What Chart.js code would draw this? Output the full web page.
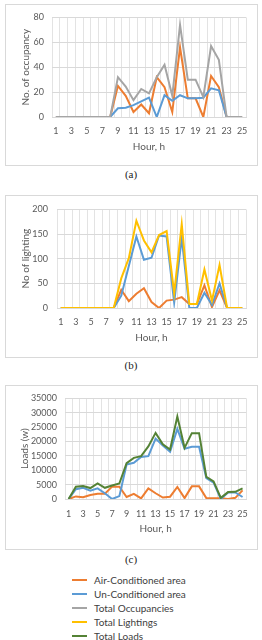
<!DOCTYPE html>
<html><head><meta charset="utf-8">
<script src="https://cdn.jsdelivr.net/npm/chart.js@4"></script>
<style>
html,body{margin:0;padding:0;background:#fff;}
body{width:262px;height:640px;position:relative;overflow:hidden;font-family:Lato,sans-serif;}
.box{position:absolute;left:5px;width:253px;border:1px solid #d9d9d9;box-sizing:border-box;}
canvas{position:absolute;left:5px;}
.cap{position:absolute;left:0;width:262px;text-align:center;font-family:"Liberation Serif",serif;font-size:11px;color:#222;}
.leg{position:absolute;left:72px;font-size:10px;color:#404040;height:14px;line-height:14px;white-space:nowrap;}
.leg span{display:inline-block;width:15px;height:2px;vertical-align:middle;margin-right:7px;position:relative;top:-1px;}
</style></head>
<body>
<div class="box" style="top:4px;height:162px"></div>
<canvas id="ca" width="253" height="162" style="top:4px"></canvas>
<div class="cap" style="top:168px">(a)</div>
<div class="box" style="top:195px;height:163px"></div>
<canvas id="cb" width="253" height="163" style="top:195px"></canvas>
<div class="cap" style="top:359px">(b)</div>
<div class="box" style="top:385px;height:165px"></div>
<canvas id="cc" width="253" height="165" style="top:385px"></canvas>
<div class="cap" style="top:553px">(c)</div>
<div id="legend"></div>
<script>
const hours = ['1','2','3','4','5','6','7','8','9','10','11','12','13','14','15','16','17','18','19','20','21','22','23','24','25'];

const occAC    = [0,0,0,0,0,0,0,0,25,17,4,10,3,32,24,4,56,15,15,0,33,24,0,0,0];
const occUC    = [0,0,0,0,0,0,0,0,7,7.5,9.5,12.5,15.5,0,17.5,13,17.5,15,15,15.5,23,21.5,0,0,0];
const occTotal = [0,0,0,0,0,0,0,0,32,24.5,13.5,22.5,19,32,42,17,74,30,30,16,57,46,0,0,0];

const lightAC    = [0,0,0,0,0,0,0,0,37,14,29,40,12,0,15,17,22,8,8,46,2,36,0,0,0];
const lightUC    = [0,0,0,0,0,0,0,0,25,85,145,98,102,147,145,11,142,0,0,31,6,50,0,0,0];
const lightTotal = [0,0,0,0,0,0,0,0,60,101,177,137,113,148,156,30,170,8,8,78,15,87,0,0,0];

const loadAC    = [0,900,600,1400,1800,1800,4300,4300,700,1800,200,3700,2000,500,800,4200,300,4400,4400,300,300,300,0,400,3000];
const loadUC    = [0,3400,3900,2900,3700,2000,0,1000,12000,12600,14600,14900,21000,18600,16400,24400,17500,18200,18200,7300,5700,0,2300,2300,700];
const loadTotal = [0,4300,4500,3800,5400,3900,4700,5400,12500,14300,14900,18300,23000,19000,17200,28700,17800,22900,22900,7700,6100,400,2400,2500,3700];

const occTicks   = [0,20,40,60,80];
const lightTicks = [0,50,100,150,200];
const loadTicks  = [0,5000,10000,15000,20000,25000,30000,35000];

const seriesNames = ['Air-Conditioned area','Un-Conditioned area','Total Occupancies','Total Lightings','Total Loads'];
const colors = {ac:'#ED7D31', uc:'#5B9BD5', occ:'#A5A5A5', light:'#FFC000', load:'#548235'};

const F = 'Lato';
function build(id, g, series, yTitle, yTicks){
  new Chart(document.getElementById(id), {
    type:'line',
    data:{labels:hours, datasets:series.map(s=>({label:s.name,data:s.data,borderColor:s.color,backgroundColor:s.color,borderWidth:2,pointRadius:0,tension:0,fill:false,order:s.order}))},
    options:{
      responsive:false, animation:false, devicePixelRatio:1,
      layout:{padding:{top:g.padTop,right:g.padRight,left:0,bottom:0}},
      plugins:{legend:{display:false},tooltip:{enabled:false}},
      scales:{
        x:{type:'category', offset:true,
          grid:{offset:true,color:'#e3e3e3',drawTicks:false},
          border:{display:true,color:'#d9d9d9'},
          ticks:{autoSkip:false,maxRotation:0,padding:g.xTickPad,color:'#595959',font:{family:F,size:9},
            callback:function(v,i){return i%2===0?this.getLabelForValue(v):'';}},
          title:{display:true,text:'Hour, h',color:'#595959',font:{family:F,size:10},padding:{top:0,bottom:g.xTitlePad}},
          afterFit:s=>{s.height=g.xHeight;}},
        y:{min:yTicks[0],max:yTicks[yTicks.length-1],
          ticks:{stepSize:yTicks[1]-yTicks[0],padding:g.yTickPad,color:'#595959',font:{family:F,size:9},
            callback:v=>String(v)},
          grid:{color:'#d9d9d9',drawTicks:false},
          border:{display:false},
          title:{display:true,text:yTitle,color:'#595959',font:{family:F,size:10},padding:{top:g.yTitlePad,bottom:0}},
          afterFit:s=>{s.width=g.yWidth;}}
      }
    }
  });
}

build('ca',{padTop:12,padRight:12,yWidth:47,xHeight:49,xTickPad:9,xTitlePad:13,yTitlePad:15,yTickPad:8},
  [{name:seriesNames[0],data:occAC,color:colors.ac,order:3},
   {name:seriesNames[1],data:occUC,color:colors.uc,order:2},
   {name:seriesNames[2],data:occTotal,color:colors.occ,order:1}],
  'No. of occupancy', occTicks);

build('cb',{padTop:12,padRight:12,yWidth:52,xHeight:50,xTickPad:9,xTitlePad:14,yTitlePad:15,yTickPad:9},
  [{name:seriesNames[0],data:lightAC,color:colors.ac,order:3},
   {name:seriesNames[1],data:lightUC,color:colors.uc,order:2},
   {name:seriesNames[3],data:lightTotal,color:colors.light,order:1}],
  'No of lighting', lightTicks);

build('cc',{padTop:13,padRight:11,yWidth:60,xHeight:51,xTickPad:10,xTitlePad:15,yTitlePad:14,yTickPad:8},
  [{name:seriesNames[0],data:loadAC,color:colors.ac,order:3},
   {name:seriesNames[1],data:loadUC,color:colors.uc,order:2},
   {name:seriesNames[4],data:loadTotal,color:colors.load,order:1}],
  'Loads (w)', loadTicks);

const legColors = [colors.ac,colors.uc,colors.occ,colors.light,colors.load];
const legEl = document.getElementById('legend');
seriesNames.forEach((n,i)=>{
  const d=document.createElement('div');
  d.className='leg';
  d.style.top=(573+i*14)+'px';
  const sw=document.createElement('span');
  sw.style.background=legColors[i];
  d.appendChild(sw);
  d.appendChild(document.createTextNode(n));
  legEl.appendChild(d);
});
</script>
</body></html>
